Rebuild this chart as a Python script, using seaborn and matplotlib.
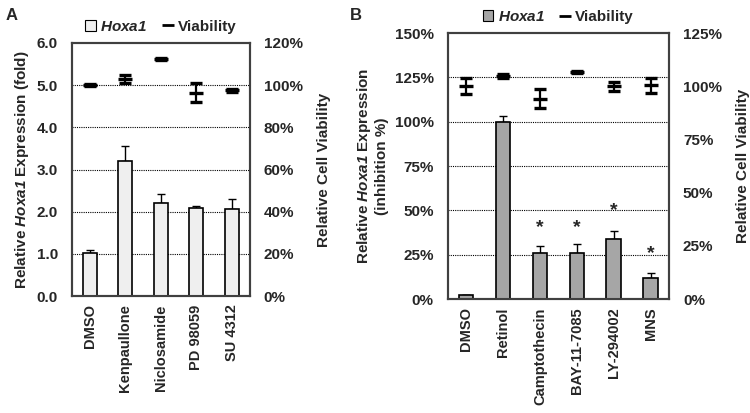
import matplotlib
matplotlib.use("Agg")
import matplotlib.pyplot as plt
import seaborn as sns
import pandas as pd
from matplotlib.patches import Patch
from matplotlib.lines import Line2D

sns.set_style("white")
plt.rcParams["font.family"] = ["Liberation Sans", "DejaVu Sans"]
plt.rcParams["font.weight"] = "bold"
plt.rcParams["mathtext.fontset"] = "custom"
plt.rcParams["mathtext.it"] = "Liberation Sans:italic:bold"
plt.rcParams["mathtext.rm"] = "Liberation Sans:italic:bold"

# Panel A data
drugs_a = ["DMSO", "Kenpaullone", "Niclosamide", "PD 98059", "SU 4312"]
hoxa1_a = [1.02, 3.2, 2.2, 2.1, 2.07]
hoxa1_err_a = [0.08, 0.35, 0.23, 0.04, 0.23]
viab_a = [100, 103, 112.5, 96.5, 97.5]
viab_err_a = [0.6, 1.8, 0.4, 4.7, 0.8]

# Panel B data
drugs_b = ["DMSO", "Retinol", "Camptothecin", "BAY-11-7085", "LY-294002", "MNS"]
hoxa1_b = [2, 100, 25.7, 25.7, 33.8, 12.1]
hoxa1_err_b = [0, 3.2, 4.1, 5.6, 4.6, 2.8]
viab_b = [100, 104.8, 94.2, 106.7, 100, 100.4]
viab_err_b = [3.7, 1.0, 4.3, 0.6, 2.2, 3.4]
star_b = [None, None, 40.5, 40.5, 50, 25.5]

fig = plt.figure(figsize=(7.5, 4.13), dpi=100)
ax_a = fig.add_axes([0.096, 0.283, 0.237, 0.613])
ax_b = fig.add_axes([0.597, 0.276, 0.295, 0.644])

spine_col = "#404040"
fs = 11


def style_axes(ax):
    for s in ax.spines.values():
        s.set_color(spine_col)
        s.set_linewidth(1.5)
    ax.tick_params(axis="y", length=0, labelsize=fs, pad=10)
    ax.tick_params(axis="x", length=0, pad=6)
    for lab in ax.get_yticklabels():
        lab.set_fontweight("bold")


def draw_panel(ax, drugs, vals, errs, v_vals, v_errs, bar_col, ymax, ystep, vmax, vstep, fmt_left):
    df = pd.DataFrame({"drug": drugs, "val": vals})
    sns.barplot(data=df, x="drug", y="val", color=bar_col, saturation=1, width=0.39,
                edgecolor="black", linewidth=1.2, errorbar=None, ax=ax, zorder=3)
    xs = range(len(drugs))
    ax.errorbar(xs, vals, yerr=[[0] * len(vals), errs], fmt="none", ecolor="black",
                elinewidth=1.0, capsize=3, capthick=1.0, zorder=2)
    ax.set_ylim(0, ymax)
    ticks = [i * ystep for i in range(int(round(ymax / ystep)) + 1)]
    ax.set_yticks(ticks)
    ax.set_yticklabels([fmt_left(t) for t in ticks])
    for t in ticks[1:-1]:
        ax.axhline(t, color="black", linestyle=(0, (1, 1)), linewidth=0.8, zorder=1)
    ax.set_xlabel("")
    ax.set_xticks(list(xs))
    ax.set_xticklabels(drugs, rotation=90, fontsize=10.5, fontweight="bold")
    ax.set_xlim(-0.5, len(drugs) - 0.5)
    style_axes(ax)

    tw = ax.twinx()
    tw.errorbar(xs, v_vals, yerr=v_errs, fmt="_", color="black", markersize=10,
                markeredgewidth=2.4, elinewidth=1.6, capsize=4, capthick=1.6)
    tw.set_ylim(0, vmax)
    vt = [i * vstep for i in range(int(round(vmax / vstep)) + 1)]
    tw.set_yticks(vt)
    tw.set_yticklabels([f"{int(v)}%" for v in vt])
    tw.set_ylabel("Relative Cell Viability", fontsize=fs, fontweight="bold", labelpad=10)
    style_axes(tw)

    handles = [Patch(facecolor=bar_col, edgecolor="black", linewidth=0.8, label=r"$Hoxa1$"),
               Line2D([], [], color="black", marker="_", linestyle="none", markersize=9,
                      markeredgewidth=2, label="Viability")]
    leg = ax.legend(handles=handles, ncol=2, loc="lower center", bbox_to_anchor=(0.5, 1.0),
                    frameon=False, fontsize=fs, handlelength=0.7, handleheight=0.7,
                    handletextpad=0.3, columnspacing=1.0, borderaxespad=0.2)
    for t in leg.get_texts():
        t.set_fontweight("bold")
    return tw


draw_panel(ax_a, drugs_a, hoxa1_a, hoxa1_err_a, viab_a, viab_err_a, "#efefef",
           6.0, 1.0, 120, 20, lambda t: f"{t:.1f}")
ax_a.set_ylabel(r"Relative $Hoxa1$ Expression (fold)", fontsize=fs, fontweight="bold")

draw_panel(ax_b, drugs_b, hoxa1_b, hoxa1_err_b, viab_b, viab_err_b, "#a6a6a6",
           150, 25, 125, 25, lambda t: f"{int(t)}%")
ax_b.set_ylabel("Relative $Hoxa1$ Expression\n(inhibition %)", fontsize=fs,
                fontweight="bold")

for i, s in enumerate(star_b):
    if s is not None:
        ax_b.text(i, s, "*", ha="center", va="center", fontsize=14, fontweight="bold", zorder=4)

fig.text(0.007, 0.962, "A", fontsize=12, fontweight="bold", va="center")
fig.text(0.466, 0.962, "B", fontsize=12, fontweight="bold", va="center")

fig.savefig("out.png", dpi=100)
